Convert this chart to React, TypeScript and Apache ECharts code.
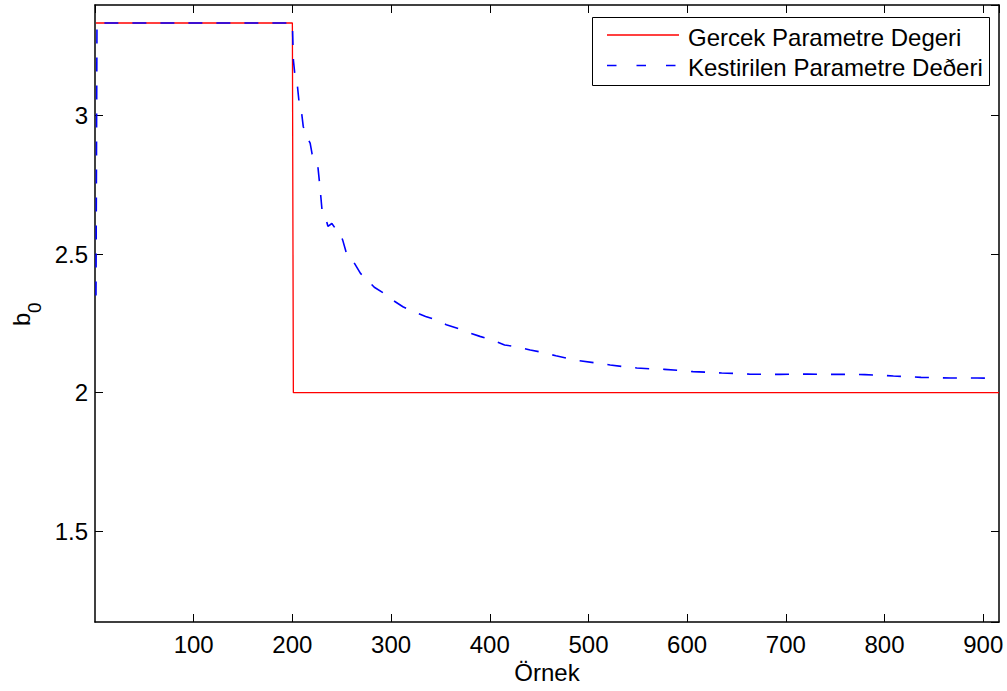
import React, { useEffect, useRef } from "react";
import * as echarts from "echarts";

// ---- data ----
const legendNames = ["Gercek Parametre Degeri", "Kestirilen Parametre Deðeri"];
const xAxisName = "Örnek";

const trueX = [1, 200, 201, 916];
const trueY = [3.333, 3.333, 2, 2];

const estX = [
  1, 2, 200, 201, 203, 205, 207, 209, 211, 213,
  215, 218, 220, 223, 226, 228, 230, 233, 236, 240,
  244, 248, 251, 255, 259, 264, 269, 275, 283, 292,
  301, 312, 324, 335, 345, 356, 368, 380, 390, 402,
  415, 428, 441, 454, 467, 480, 491, 506, 522, 535,
  549, 563, 577, 592, 606, 620, 635, 650, 663, 680,
  694, 710, 722, 736, 750, 765, 780, 795, 809, 823,
  837, 852, 867, 880, 894, 905, 915,
];
const estY = [
  2.35, 3.333, 3.333, 3.2, 3.13, 3.11, 3.04, 3.02, 2.96, 2.94,
  2.92, 2.9, 2.86, 2.84, 2.81, 2.74, 2.66, 2.64, 2.6, 2.61,
  2.59, 2.58, 2.55, 2.5, 2.49, 2.46, 2.43, 2.41, 2.38, 2.36,
  2.335, 2.31, 2.29, 2.275, 2.263, 2.245, 2.231, 2.215, 2.203, 2.19,
  2.172, 2.165, 2.154, 2.145, 2.133, 2.123, 2.115, 2.108, 2.1, 2.094,
  2.089, 2.086, 2.084, 2.08, 2.076, 2.074, 2.071, 2.069, 2.067, 2.066,
  2.066, 2.067, 2.067, 2.066, 2.066, 2.066, 2.065, 2.063, 2.06, 2.058,
  2.055, 2.054, 2.053, 2.053, 2.053, 2.052, 2.052,
];

const xRange = [0, 916];
const yRange = [1.173, 3.398];

const FONT = "Liberation Sans, Arial, Helvetica, sans-serif";

export default function App() {
  const ref = useRef<HTMLDivElement>(null);
  useEffect(() => {
    if (!ref.current) return;
    const chart = echarts.init(ref.current, undefined, { renderer: "svg" });
    const trueData = trueX.map((x, i) => [x, trueY[i]]);
    const estData = estX.map((x, i) => [x, estY[i]]);
    const axisLine = { show: true, onZero: false, lineStyle: { color: "#000", width: 1.5 } };
    const tick = { show: true, inside: true, length: 8, lineStyle: { color: "#000", width: 1 } };
    chart.setOption({
      animation: false,
      backgroundColor: "#fff",
      grid: { left: 95, right: 8, top: 5, bottom: 69, containLabel: false },
      xAxis: [
        {
          type: "value",
          min: xRange[0],
          max: xRange[1],
          interval: 100,
          position: "bottom",
          axisLine,
          axisTick: tick,
          splitLine: { show: false },
          axisLabel: {
            show: true,
            margin: 10,
            color: "#000",
            fontSize: 24,
            fontFamily: FONT,
            showMinLabel: false,
            showMaxLabel: false,
          },
          name: xAxisName,
          nameLocation: "middle",
          nameGap: 37,
          nameTextStyle: { color: "#000", fontSize: 24, fontFamily: FONT },
        },
        {
          type: "value",
          min: xRange[0],
          max: xRange[1],
          interval: 100,
          position: "top",
          axisLine,
          axisTick: tick,
          splitLine: { show: false },
          axisLabel: { show: false },
        },
      ],
      yAxis: [
        {
          type: "value",
          min: yRange[0],
          max: yRange[1],
          splitNumber: 5,
          position: "left",
          axisLine,
          axisTick: tick,
          splitLine: { show: false },
          axisLabel: {
            show: true,
            margin: 7,
            color: "#000",
            fontSize: 24,
            fontFamily: FONT,
            showMinLabel: false,
            showMaxLabel: false,
          },
        },
        {
          type: "value",
          min: yRange[0],
          max: yRange[1],
          splitNumber: 5,
          position: "right",
          axisLine,
          axisTick: tick,
          splitLine: { show: false },
          axisLabel: { show: false },
        },
      ],
      series: [
        {
          name: legendNames[0],
          type: "line",
          data: trueData,
          symbol: "none",
          showSymbol: false,
          lineStyle: { color: "#ff0000", width: 1.3 },
          z: 2,
        },
        {
          name: legendNames[1],
          type: "line",
          data: estData,
          symbol: "none",
          showSymbol: false,
          lineStyle: { color: "#0000ff", width: 1.6, type: [14, 14] },
          z: 3,
        },
      ],
      graphic: [
        {
          type: "rect",
          z: 100,
          shape: { x: 592.5, y: 17.5, width: 397, height: 68 },
          style: { fill: "#fff", stroke: "#000", lineWidth: 1 },
        },
        {
          type: "line",
          z: 101,
          shape: { x1: 607, y1: 35, x2: 679, y2: 35 },
          style: { stroke: "#ff0000", lineWidth: 1.3 },
        },
        {
          type: "line",
          z: 101,
          shape: { x1: 607, y1: 65.5, x2: 679, y2: 65.5 },
          style: { stroke: "#0000ff", lineWidth: 1.5, lineDash: [9.5, 20] },
        },
        {
          type: "text",
          z: 101,
          x: 688,
          y: 37.3,
          style: {
            text: legendNames[0],
            fontSize: 24,
            fontFamily: FONT,
            fill: "#000",
            verticalAlign: "middle",
            textVerticalAlign: "middle",
          },
        },
        {
          type: "text",
          z: 101,
          x: 688,
          y: 67,
          style: {
            text: legendNames[1],
            fontSize: 24,
            fontFamily: FONT,
            fill: "#000",
            verticalAlign: "middle",
            textVerticalAlign: "middle",
          },
        },
        {
          type: "group",
          x: 21,
          y: 314,
          rotation: Math.PI / 2,
          children: [
            {
              type: "text",
              x: -12,
              y: 0,
              style: {
                text: "b",
                fontSize: 24,
                fontFamily: FONT,
                fill: "#000",
                verticalAlign: "middle",
                textVerticalAlign: "middle",
              },
            },
            {
              type: "text",
              x: 1,
              y: 13.6,
              style: {
                text: "0",
                fontSize: 19,
                fontFamily: FONT,
                fill: "#000",
                verticalAlign: "middle",
                textVerticalAlign: "middle",
              },
            },
          ],
        },
      ],
    });
    return () => chart.dispose();
  }, []);
  return (
    <div
      ref={ref}
      style={{ position: "absolute", left: 0, top: 0, width: 1007, height: 691 }}
    />
  );
}
